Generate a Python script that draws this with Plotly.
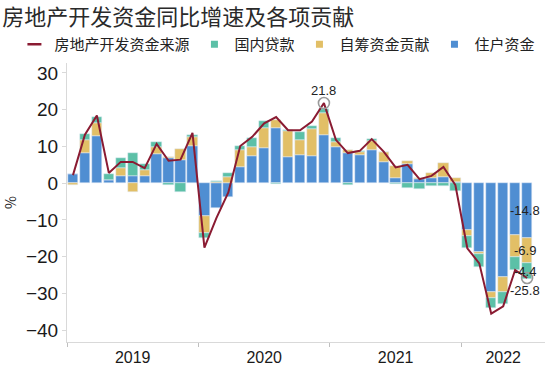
import plotly.graph_objects as go

# ---------------- data ----------------
months = [
    "2019-02", "2019-03", "2019-04", "2019-05", "2019-06", "2019-07", "2019-08",
    "2019-09", "2019-10", "2019-11", "2019-12",
    "2020-02", "2020-03", "2020-04", "2020-05", "2020-06", "2020-07", "2020-08",
    "2020-09", "2020-10", "2020-11", "2020-12",
    "2021-02", "2021-03", "2021-04", "2021-05", "2021-06", "2021-07", "2021-08",
    "2021-09", "2021-10", "2021-11", "2021-12",
    "2022-02", "2022-03", "2022-04", "2022-05", "2022-06", "2022-07",
]
# 住户资金
household = [2.5, 8.2, 12.9, 0.9, 1.9, 1.9, 1.9, 8.0, 6.8, 6.4, 10.0,
             -8.8, -6.7, -3.8, 4.5, 7.5, 9.7, 15.0, 7.0, 7.7, 7.5, 13.0,
             9.9, 8.2, 7.6, 8.9, 5.9, 1.4, 5.1, 1.1, 1.4, 1.6, 0.3,
             -12.6, -18.6, -29.5, -25.5, -14.1, -14.8]
# 自筹资金贡献
selffund = [-0.5, 3.6, 3.5, 0.0, 2.3, -2.5, 1.7, 1.9, 0.4, 2.9, 2.6,
            -4.8, 0.4, 1.6, 4.6, 2.3, 5.3, 2.3, 7.3, 4.1, 7.2, 6.1,
            1.2, 0.7, 1.0, 2.5, 2.5, 3.2, 0.9, 0.3, 1.4, 3.8, 1.1,
            -1.7, -0.6, -1.7, -4.1, -6.1, -6.9]
# 国内贷款
loans = [0.0, 1.6, 1.7, 1.7, 2.6, 6.4, 1.5, 1.2, -0.6, -2.5, 0.4,
         -1.4, 0.3, 1.3, 1.1, 2.6, 1.8, -0.3, 0.1, 2.0, 0.9, 1.1,
         1.1, -0.5, 0.2, 0.6, 0.1, -0.3, -1.4, -1.5, -0.7, -0.7, -2.0,
         -3.3, -3.7, -2.8, -3.2, -3.4, -4.4]
# 房地产开发资金来源（同比）
total = [2.2, 13.2, 18.4, 2.8, 5.8, 5.8, 4.1, 10.7, 6.1, 6.4, 13.7,
         -17.5, -9.5, -2.5, 10.1, 12.6, 16.3, 18.0, 14.4, 14.4, 16.8, 21.8,
         11.8, 8.2, 8.8, 12.0, 8.6, 4.3, 5.0, 1.1, 2.0, 4.4, -0.5,
         -17.7, -21.8, -35.5, -33.5, -23.6, -25.8]

names = {"total": "房地产开发资金来源", "loans": "国内贷款",
         "self": "自筹资金贡献", "house": "住户资金"}
title_text = "房地产开发资金同比增速及各项贡献"

BLUE = "#4F8ED2"
YELLOW = "#E2BF66"
TEAL = "#5CC0A7"
RED = "#8A1B32"

# ---------------- derived positions ----------------
x = list(range(len(months)))
years = sorted(set(m[:4] for m in months))
bounds = [i - 0.5 for i, m in enumerate(months) if m.endswith("-02")]
x_end = len(months) + 0.5
edges = bounds + [x_end]
year_pos = [(edges[k] + edges[k + 1]) / 2 for k in range(len(years))]

fig = go.Figure()
bw = 0.86
fig.add_trace(go.Bar(x=x, y=household, marker_color=BLUE, width=bw,
                     name=names["house"], showlegend=False))
fig.add_trace(go.Bar(x=x, y=selffund, marker_color=YELLOW, width=bw,
                     name=names["self"], showlegend=False))
fig.add_trace(go.Bar(x=x, y=loans, marker_color=TEAL, width=bw,
                     name=names["loans"], showlegend=False))
fig.add_trace(go.Scatter(x=x, y=total, mode="lines", line=dict(color=RED, width=2),
                         name=names["total"], showlegend=False))

# highlighted points
i_peak = total.index(max(total))
i_last = len(total) - 1
fig.add_trace(go.Scatter(x=[x[i_peak], x[i_last]], y=[total[i_peak], total[i_last]],
                         mode="markers", showlegend=False, hoverinfo="skip",
                         marker=dict(symbol="circle-open", size=11, color="#9A9A9A",
                                     line=dict(color="#9A9A9A", width=1.6))))

# legend entries (small symbols like the reference)
fig.add_trace(go.Scatter(x=[None], y=[None], mode="markers", name=names["total"],
                         marker=dict(symbol="line-ew", size=10, color=RED,
                                     line=dict(color=RED, width=2.5)), legendrank=1))
fig.add_trace(go.Scatter(x=[None], y=[None], mode="markers", name=names["loans"],
                         marker=dict(symbol="square", size=7, color=TEAL), legendrank=2))
fig.add_trace(go.Scatter(x=[None], y=[None], mode="markers", name=names["self"],
                         marker=dict(symbol="square", size=7, color=YELLOW), legendrank=3))
fig.add_trace(go.Scatter(x=[None], y=[None], mode="markers", name=names["house"],
                         marker=dict(symbol="square", size=7, color=BLUE), legendrank=4))

NUMFONT = dict(family="Liberation Sans, Arial", size=13, color="#222222")
fig.add_annotation(x=x[i_peak], y=total[i_peak], text=f"{total[i_peak]:.1f}",
                   showarrow=False, yshift=13, font=NUMFONT)
fig.add_annotation(x=x[i_last], y=total[i_last], text=f"{total[i_last]:.1f}",
                   showarrow=False, yshift=-12, xshift=-2, font=NUMFONT)
# segment labels of the last bar
h, s, l = household[-1], selffund[-1], loans[-1]
seg_mid = [h / 2, h + s / 2, h + s + l / 2]
seg_val = [h, s, l]
for ym, v in zip(seg_mid, seg_val):
    fig.add_annotation(x=x[i_last], y=ym, text=f"{v:.1f}", showarrow=False,
                       xshift=-2, font=NUMFONT)

fig.update_layout(
    width=550, height=366,
    margin=dict(l=67, r=5, t=63, b=24, autoexpand=False),
    barmode="relative",
    bargap=0,
    plot_bgcolor="white", paper_bgcolor="white",
    font=dict(family="Noto Sans CJK SC, Liberation Sans", color="#222222"),
    title=dict(text=title_text, x=0.004, xanchor="left", xref="container",
               y=1 - 17 / 366, yanchor="middle", yref="container",
               font=dict(size=22, color="#2a2a2a", family="Noto Sans CJK SC")),
    legend=dict(orientation="h", x=-0.11, xanchor="left", y=1.066, yanchor="middle",
                font=dict(size=15, color="#222222", family="Noto Sans CJK SC"),
                itemwidth=30, traceorder="normal", bgcolor="rgba(0,0,0,0)"),
    showlegend=True,
)
fig.update_yaxes(range=[-43.2, 32.7], dtick=10, showgrid=False, zeroline=False,
                 automargin=False,
                 showline=True, linecolor="#D9D9D9", linewidth=1,
                 ticks="outside", ticklen=4, tickcolor="#D9D9D9",
                 tickfont=dict(family="Liberation Sans, Arial", size=19, color="#1a1a1a"),
                 title=dict(text="%", font=dict(size=14, color="#222222"), standoff=10))
fig.update_xaxes(range=[-0.5, x_end], showgrid=False, zeroline=False,
                 automargin=False,
                 showline=True, linecolor="#D9D9D9", linewidth=1,
                 tickmode="array", tickvals=year_pos, ticktext=years,
                 ticks="outside", ticklen=1, tickcolor="rgba(0,0,0,0)",
                 tickfont=dict(family="Liberation Sans, Arial", size=16, color="#1a1a1a"),
                 minor=dict(tickmode="array", tickvals=bounds, ticks="outside",
                            ticklen=4, tickcolor="#BFBFBF", showgrid=False))

fig.write_html("out.html", config={"displayModeBar": False},
               post_script="document.body.style.margin='0';document.body.style.overflow='hidden';")
